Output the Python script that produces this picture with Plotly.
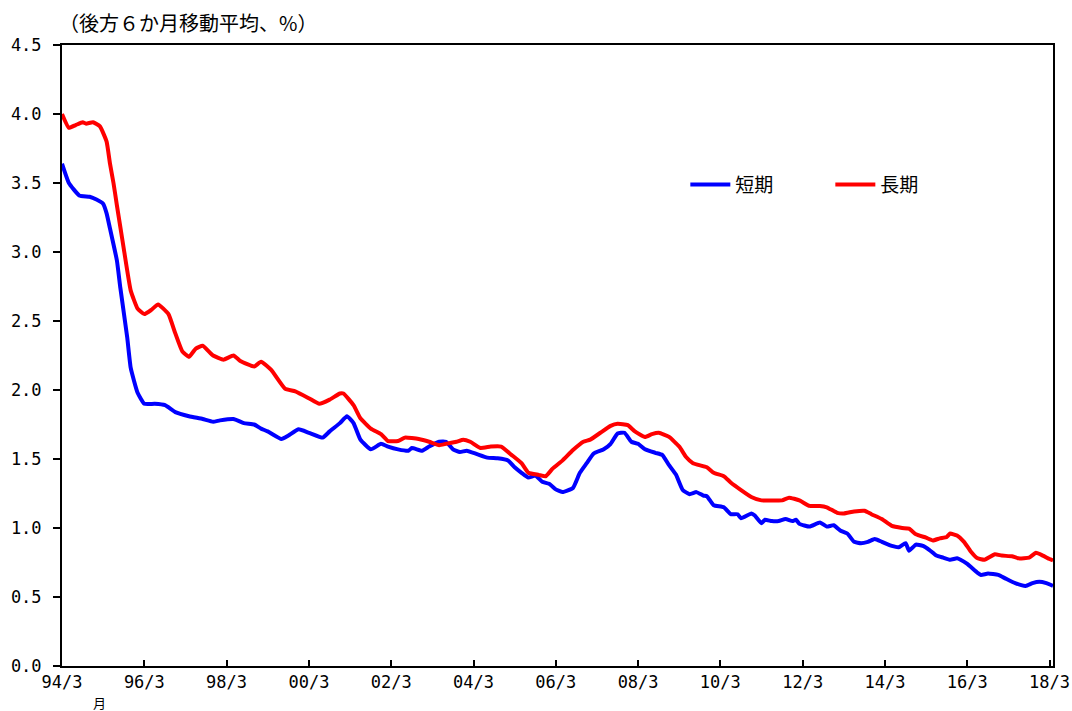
import plotly.graph_objects as go

# ---- data (6-month backward moving average, %) ----
short_dates = [
    "1994-03", "1994-05", "1994-08", "1994-11", "1995-01", "1995-03", "1995-04", "1995-05",
    "1995-07", "1995-08", "1995-10", "1995-11", "1996-01", "1996-03", "1996-06", "1996-09",
    "1996-12", "1997-04", "1997-08", "1997-11", "1998-01", "1998-05", "1998-08", "1998-11",
    "1999-01", "1999-03", "1999-07", "1999-09", "1999-12", "2000-03", "2000-07", "2000-09",
    "2000-12", "2001-02", "2001-04", "2001-06", "2001-09", "2001-12", "2002-02", "2002-05",
    "2002-08", "2002-09", "2002-12", "2003-02", "2003-05", "2003-07", "2003-09", "2003-11",
    "2004-01", "2004-04", "2004-07", "2004-10", "2005-01", "2005-03", "2005-05", "2005-07",
    "2005-09", "2005-11", "2006-01", "2006-03", "2006-05", "2006-08", "2006-10", "2006-12",
    "2007-02", "2007-05", "2007-07", "2007-09", "2007-11", "2008-01", "2008-03", "2008-05",
    "2008-08", "2008-10", "2008-12", "2009-02", "2009-04", "2009-06", "2009-08", "2009-10",
    "2009-11", "2010-01", "2010-04", "2010-06", "2010-08", "2010-09", "2010-12", "2011-01",
    "2011-03", "2011-04", "2011-06", "2011-08", "2011-10", "2011-12", "2012-01", "2012-02",
    "2012-05", "2012-08", "2012-10", "2012-12", "2013-02", "2013-04", "2013-06", "2013-08",
    "2013-10", "2013-12", "2014-02", "2014-05", "2014-07", "2014-09", "2014-10", "2014-12",
    "2015-02", "2015-04", "2015-06", "2015-08", "2015-10", "2015-12", "2016-01", "2016-03",
    "2016-06", "2016-07", "2016-09", "2016-12", "2017-02", "2017-05", "2017-08", "2017-10",
    "2017-12", "2018-02", "2018-04",
]
short_rate = [
    3.64, 3.50, 3.41, 3.40, 3.38, 3.35, 3.28, 3.17,
    2.94, 2.74, 2.38, 2.16, 1.98, 1.90, 1.90, 1.89,
    1.84, 1.81, 1.79, 1.77, 1.78, 1.79, 1.76, 1.75,
    1.72, 1.70, 1.645, 1.67, 1.715, 1.69, 1.655, 1.70,
    1.76, 1.81, 1.76, 1.64, 1.57, 1.61, 1.59, 1.57,
    1.56, 1.58, 1.56, 1.59, 1.625, 1.625, 1.57, 1.55,
    1.56, 1.535, 1.51, 1.505, 1.49, 1.44, 1.40, 1.365,
    1.38, 1.335, 1.32, 1.28, 1.26, 1.29, 1.40, 1.47,
    1.54, 1.57, 1.61, 1.685, 1.69, 1.625, 1.61, 1.57,
    1.545, 1.53, 1.455, 1.385, 1.275, 1.245, 1.26, 1.235,
    1.23, 1.165, 1.15, 1.10, 1.10, 1.07, 1.105, 1.09,
    1.035, 1.06, 1.05, 1.05, 1.065, 1.05, 1.06, 1.03,
    1.01, 1.04, 1.01, 1.02, 0.98, 0.96, 0.90, 0.89,
    0.90, 0.92, 0.90, 0.87, 0.86, 0.89, 0.835, 0.88,
    0.87, 0.84, 0.80, 0.785, 0.77, 0.78, 0.77, 0.74,
    0.675, 0.66, 0.67, 0.66, 0.635, 0.60, 0.58, 0.60,
    0.61, 0.60, 0.58,
]

long_dates = [
    "1994-03", "1994-05", "1994-07", "1994-09", "1994-10", "1994-12", "1995-02", "1995-04",
    "1995-05", "1995-06", "1995-07", "1995-08", "1995-09", "1995-11", "1996-01", "1996-03",
    "1996-05", "1996-07", "1996-10", "1996-12", "1997-02", "1997-04", "1997-06", "1997-08",
    "1997-11", "1998-02", "1998-05", "1998-07", "1998-11", "1999-01", "1999-04", "1999-08",
    "1999-11", "2000-03", "2000-06", "2000-09", "2000-12", "2001-01", "2001-04", "2001-06",
    "2001-09", "2001-12", "2002-02", "2002-05", "2002-07", "2002-11", "2003-02", "2003-05",
    "2003-07", "2003-10", "2003-12", "2004-02", "2004-05", "2004-08", "2004-11", "2005-02",
    "2005-05", "2005-07", "2005-10", "2005-12", "2006-02", "2006-05", "2006-08", "2006-11",
    "2007-01", "2007-04", "2007-07", "2007-09", "2007-12", "2008-02", "2008-05", "2008-07",
    "2008-09", "2008-12", "2009-03", "2009-05", "2009-07", "2009-11", "2010-01", "2010-04",
    "2010-06", "2010-09", "2010-12", "2011-03", "2011-06", "2011-09", "2011-11", "2012-02",
    "2012-05", "2012-08", "2012-10", "2013-01", "2013-03", "2013-06", "2013-09", "2013-11",
    "2014-02", "2014-05", "2014-08", "2014-10", "2014-12", "2015-03", "2015-05", "2015-07",
    "2015-09", "2015-10", "2015-12", "2016-02", "2016-04", "2016-06", "2016-08", "2016-11",
    "2017-01", "2017-04", "2017-06", "2017-09", "2017-11", "2018-01", "2018-03", "2018-04",
]
long_rate = [
    4.00, 3.90, 3.92, 3.94, 3.93, 3.94, 3.91, 3.80,
    3.64, 3.50, 3.34, 3.18, 3.02, 2.72, 2.59, 2.55,
    2.58, 2.62, 2.55, 2.41, 2.28, 2.24, 2.30, 2.32,
    2.25, 2.22, 2.25, 2.21, 2.17, 2.205, 2.145, 2.01,
    1.99, 1.94, 1.90, 1.93, 1.975, 1.975, 1.89, 1.795,
    1.72, 1.68, 1.63, 1.63, 1.655, 1.645, 1.625, 1.60,
    1.61, 1.625, 1.64, 1.625, 1.58, 1.59, 1.59, 1.53,
    1.47, 1.40, 1.385, 1.375, 1.43, 1.49, 1.565, 1.625,
    1.64, 1.69, 1.74, 1.755, 1.745, 1.70, 1.66, 1.68,
    1.69, 1.66, 1.59, 1.515, 1.47, 1.44, 1.40, 1.375,
    1.33, 1.275, 1.225, 1.20, 1.20, 1.20, 1.22, 1.20,
    1.16, 1.16, 1.15, 1.11, 1.105, 1.12, 1.125, 1.10,
    1.065, 1.015, 1.00, 0.995, 0.955, 0.93, 0.91, 0.925,
    0.935, 0.96, 0.945, 0.90, 0.83, 0.78, 0.77, 0.81,
    0.80, 0.795, 0.78, 0.785, 0.82, 0.80, 0.775, 0.765,
]

x_tick_dates = ["1994-03-01", "1996-03-01", "1998-03-01", "2000-03-01", "2002-03-01",
                "2004-03-01", "2006-03-01", "2008-03-01", "2010-03-01", "2012-03-01",
                "2014-03-01", "2016-03-01", "2018-03-01"]
x_tick_labels = ["94/3", "96/3", "98/3", "00/3", "02/3", "04/3", "06/3", "08/3",
                 "10/3", "12/3", "14/3", "16/3", "18/3"]
y_tick_vals = [0.0, 0.5, 1.0, 1.5, 2.0, 2.5, 3.0, 3.5, 4.0, 4.5]
y_tick_labels = ["0.0", "0.5", "1.0", "1.5", "2.0", "2.5", "3.0", "3.5", "4.0", "4.5"]

series_names = ["短期", "長期"]
series_colors = ["#0000FF", "#FF0000"]

TICK_FONT = "DejaVu Sans Mono, Noto Sans CJK JP, monospace"
CJK_FONT = "Noto Sans CJK JP, sans-serif"

fig = go.Figure()
fig.add_trace(go.Scatter(x=short_dates, y=short_rate, mode="lines", name=series_names[0],
                         line=dict(color=series_colors[0], width=4, shape="spline", smoothing=0.4)))
fig.add_trace(go.Scatter(x=long_dates, y=long_rate, mode="lines", name=series_names[1],
                         line=dict(color=series_colors[1], width=4, shape="spline", smoothing=0.4)))

fig.update_layout(
    width=1072, height=711,
    margin=dict(l=62, r=19, t=45, b=45),
    paper_bgcolor="white", plot_bgcolor="white",
    showlegend=True,
    legend=dict(orientation="h", x=0.629, y=0.775, xanchor="left", yanchor="middle",
                font=dict(family=CJK_FONT, size=19, color="black"),
                bgcolor="rgba(0,0,0,0)", entrywidth=90, entrywidthmode="pixels",
                itemwidth=40, tracegroupgap=0),
    xaxis=dict(
        type="date", range=["1994-03-01", "2018-04-01"], automargin=False,
        tickmode="array", tickvals=x_tick_dates, ticktext=x_tick_labels,
        ticks="inside", ticklen=6, tickwidth=1.5, tickcolor="black",
        showline=True, linecolor="black", linewidth=2, mirror=True,
        showgrid=False, zeroline=False,
        tickfont=dict(family=TICK_FONT, size=17, color="black"),
    ),
    yaxis=dict(
        range=[0, 4.5], automargin=False,
        tickmode="array", tickvals=y_tick_vals, ticktext=y_tick_labels,
        ticks="outside", ticklen=7, tickwidth=1.5, tickcolor="black",
        ticklabelstandoff=8,
        showline=True, linecolor="black", linewidth=2, mirror=True,
        showgrid=False, zeroline=False,
        tickfont=dict(family=TICK_FONT, size=17, color="black"),
    ),
    annotations=[
        dict(text="（後方６か月移動平均、%）", xref="paper", yref="paper", x=0.0, y=1.0,
             xanchor="left", yanchor="middle", yshift=23, xshift=-5, showarrow=False,
             font=dict(family=CJK_FONT, size=20, color="black")),
        dict(text="月", xref="paper", yref="paper", x=0.038, y=0.0,
             xanchor="center", yanchor="top", yshift=-25, showarrow=False,
             font=dict(family=CJK_FONT, size=13, color="black")),
    ],
)

fig.write_html("out.html", config={"displayModeBar": False},
               post_script="document.body.style.margin='0';document.body.style.overflow='hidden';")
